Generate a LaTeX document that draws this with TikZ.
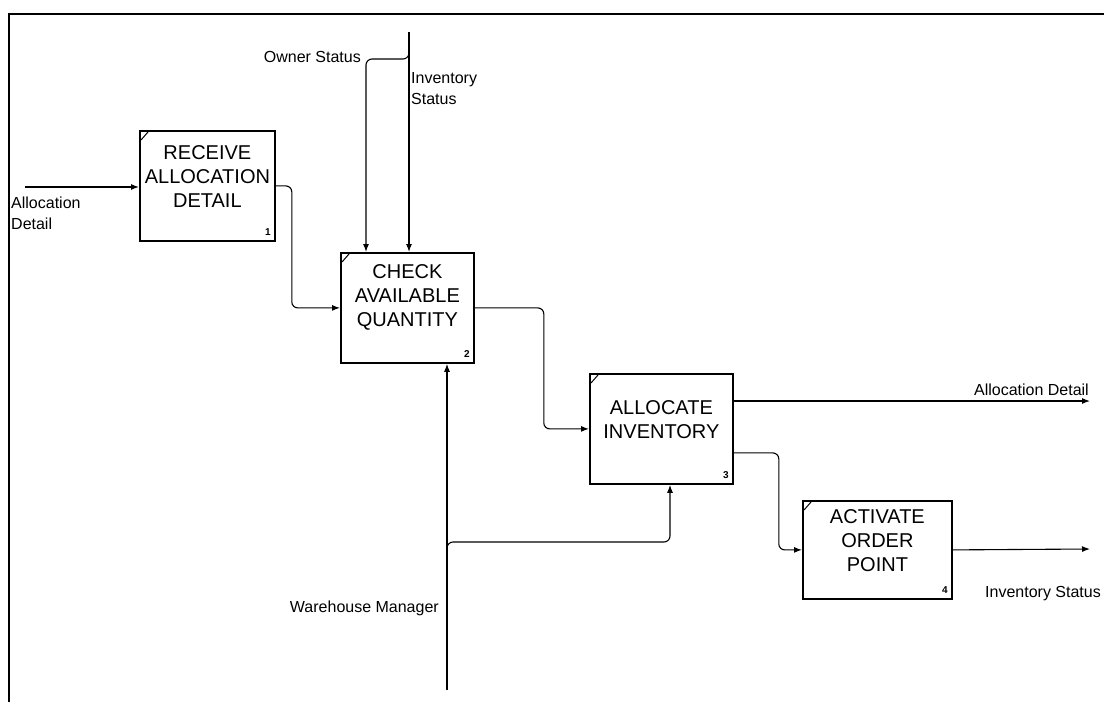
\documentclass[tikz,border=0pt]{standalone}
\usepackage{fontspec}
\setmainfont{Liberation Sans}
\usetikzlibrary{arrows.meta,positioning,calc}
\tikzset{
  act/.style={draw,line width=1.8pt,minimum width=#1,inner sep=0pt,anchor=north west},
  acttxt/.style={align=center,font=\fontsize{20}{24}\selectfont},
  num/.style={anchor=south east,inner sep=0pt,font=\fontsize{10}{12}\selectfont\bfseries},
  lbl/.style={inner sep=0pt,align=left,font=\fontsize{16}{21}\selectfont},
  ar/.style={-{Latex[length=8pt,width=6pt]},line width=1.1pt,rounded corners=6pt},
  ln/.style={line width=1.1pt,rounded corners=6pt},
}
\newcommand{\tick}[1]{\draw[line width=1pt] ([shift={(2pt,-10pt)}]#1.north west) -- ([shift={(9pt,-2pt)}]#1.north west);}
\begin{document}
\begin{tikzpicture}[x=1pt,y=-1pt]
\useasboundingbox (0,0) rectangle (1104,702);
% frame
\draw[line width=1.6pt] (9,702) -- (9,14) -- (1104,14);
% activities
\node[act=135pt,minimum height=110pt] (b1) at (139,130) {};
\node[act=133pt,minimum height=110pt] (b2) at (340,252) {};
\node[act=143pt,minimum height=110pt] (b3) at (589,373) {};
\node[act=149pt,minimum height=98pt] (b4) at (802,500) {};
\node[acttxt] at ([yshift=9pt]b1.center) {RECEIVE\\ALLOCATION\\DETAIL};
\node[acttxt] at ([yshift=10pt]b2.center) {CHECK\\AVAILABLE\\QUANTITY};
\node[acttxt] at ([yshift=9pt]b3.center) {ALLOCATE\\INVENTORY};
\node[acttxt] at ([yshift=9pt]b4.center) {ACTIVATE\\ORDER\\POINT};
\node[num] at ([shift={(-5pt,6pt)}]b1.south east) {1};
\node[num] at ([shift={(-5pt,6pt)}]b2.south east) {2};
\node[num] at ([shift={(-5pt,6pt)}]b3.south east) {3};
\node[num] at ([shift={(-5pt,6pt)}]b4.south east) {4};
\tick{b1} \tick{b2} \tick{b3} \tick{b4}
% free ends
\coordinate (in1) at (25,187);
\coordinate (top) at (409,32);
\coordinate (own) at (409,46);
\coordinate (wm) at (447,690);
\coordinate (wmb) at (447,550);
\coordinate (out1) at (1090,401);
\coordinate (out2) at (1090,549);
% connectors
\draw[ar] (in1) -- (in1 -| b1.west);
\draw[ar] (b1.east) -- ++(16,0) |- (b2.west);
\draw[ar] (b2.east) -- ++(69,0) |- (b3.west);
\draw[ar] (out1 -| b3.east) -- (out1);
\draw[ar] ([yshift=-24pt]b3.east) -- ++(45,0) |- (b4.west);
\draw[ar] (b4.east) -- (out2);
\draw[ar] (top) -- (top |- b2.north);
\draw[ar] (own) -- (409,59) -- (366,59) -- (366,0 |- b2.north);
\draw[ar] (wm) -- (wm |- b2.south);
\draw[ar] (wmb) -- (447,542) -- (670,542) -- (670,0 |- b3.south);
% labels
\node[lbl,anchor=north west] (l1) at (11,197) {Allocation\\Detail};
\node[lbl,anchor=east] (l2) at (361,57) {Owner Status};
\node[lbl,anchor=north west] (l3) at (411,72) {Inventory\\Status};
\node[lbl,anchor=east] (l4) at (1089,390) {Allocation Detail};
\node[lbl,anchor=west] (l5) at (985,594) {Inventory Status};
\node[lbl,anchor=east] (l6) at (439,608) {Warehouse Manager};
\end{tikzpicture}
\end{document}
